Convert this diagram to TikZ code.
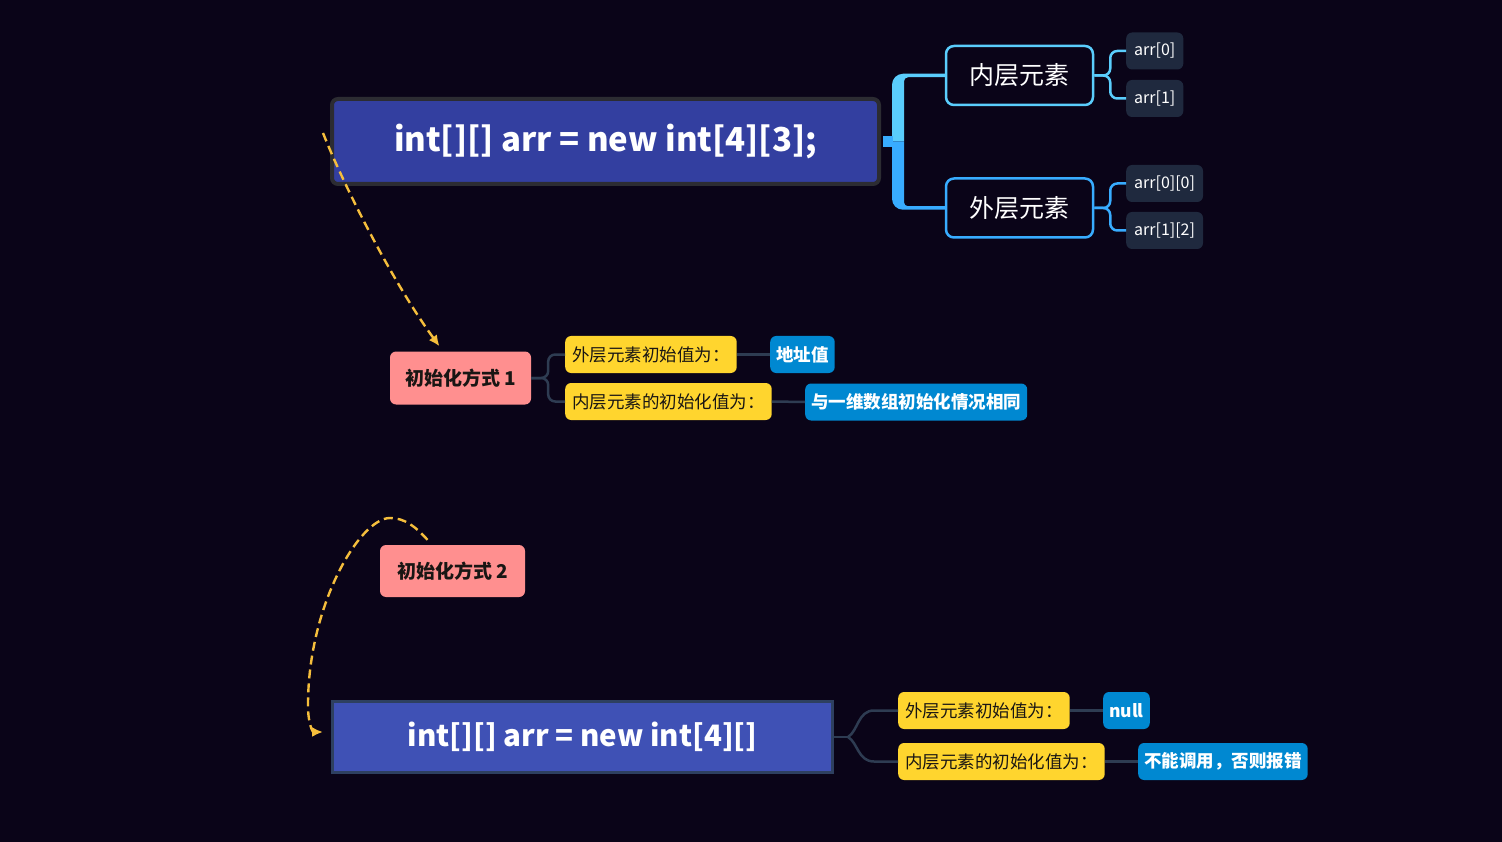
\documentclass[tikz,border=0pt]{standalone}
\usepackage{fontspec}
\setmainfont{Noto Sans CJK SC}
\usetikzlibrary{arrows.meta,calc}
\definecolor{bg}{RGB}{10,4,24}
\definecolor{mainfill}{RGB}{51,63,160}
\definecolor{mainborder}{RGB}{44,44,50}
\definecolor{cyanA}{RGB}{90,205,252}
\definecolor{cyanB}{RGB}{56,172,255}
\definecolor{leaffill}{RGB}{31,41,62}
\definecolor{pinkc}{RGB}{255,143,143}
\definecolor{yel}{RGB}{255,213,46}
\definecolor{blu}{RGB}{0,136,209}
\definecolor{slate}{RGB}{46,60,82}
\definecolor{dashc}{RGB}{245,190,60}
\definecolor{mainfillB}{RGB}{63,81,181}
\definecolor{mainborderB}{RGB}{46,64,96}
\definecolor{darktext}{RGB}{25,22,20}
\tikzset{
  mainbox/.style={draw=mainborder, line width=4pt, fill=mainfill, rounded corners=6pt, text=white,
    font=\bfseries\fontsize{33}{36}\selectfont, minimum width=547pt, minimum height=85pt},
  mainboxB/.style={draw=mainborderB, line width=3pt, fill=mainfillB, text=white,
    font=\bfseries\fontsize{29.5}{33}\selectfont, minimum width=500pt, minimum height=71pt},
  catbox/.style={line width=2.5pt, fill=bg, rounded corners=8pt, text=white,
    font=\fontsize{25}{28}\selectfont, minimum width=147pt, minimum height=59pt},
  leaf/.style={fill=leaffill, rounded corners=6pt, text=white, font=\fontsize{16}{18}\selectfont,
    minimum height=37pt, inner xsep=8pt, anchor=west},
  pinkbox/.style={fill=pinkc, rounded corners=6pt, text=darktext, font=\bfseries\fontsize{19}{22}\selectfont,
    minimum height=53pt},
  yelbox/.style={fill=yel, rounded corners=6pt, text=darktext, font=\fontsize{17.5}{20}\selectfont,
    minimum height=37pt, inner xsep=7pt, anchor=west},
  bluebox/.style={fill=blu, rounded corners=6pt, text=white, font=\bfseries\fontsize{17.5}{20}\selectfont,
    minimum height=37pt, inner xsep=6pt, anchor=west},
  slateline/.style={draw=slate, line width=2.5pt},
  dasharrow/.style={draw=dashc, line width=2.4pt, dash pattern=on 9pt off 5pt,
    -{Latex[length=11pt,width=10pt]}},
}
\begin{document}
\begin{tikzpicture}[x=1pt,y=-1pt]
\fill[bg] (0,0) rectangle (1502,842);
\useasboundingbox (0,0) rectangle (1502,842);

% top main
\node[mainbox] (m1) at (605.5,141.5) {int[][] arr = new int[4][3];};
\node[catbox, draw=cyanA] (in) at (1019.5,75.5) {内层元素};
\node[catbox, draw=cyanB] (out) at (1019.5,208) {外层元素};
\coordinate (bl) at (892,141.5);
\fill[cyanA] ($(in.west)+(0,-1.75)$) -- ($(bl |- in.west)+(11,-1.75)$)
  .. controls +(-6.1,0) and +(0,-6.1) .. ($(bl |- in.west)+(0,9.25)$) -- (bl) -- ($(bl)+(12,0)$)
  -- ($(bl |- in.west)+(12,5.75)$) .. controls +(0,-2.2) and +(-2.2,0) .. ($(bl |- in.west)+(16,1.75)$)
  -- ($(in.west)+(0,1.75)$) -- cycle;
\fill[cyanB] ($(out.west)+(0,1.75)$) -- ($(bl |- out.west)+(11,1.75)$)
  .. controls +(-6.1,0) and +(0,6.1) .. ($(bl |- out.west)+(0,-9.25)$) -- (bl) -- ($(bl)+(12,0)$)
  -- ($(bl |- out.west)+(12,-5.75)$) .. controls +(0,2.2) and +(-2.2,0) .. ($(bl |- out.west)+(16,-1.75)$)
  -- ($(out.west)+(0,-1.75)$) -- cycle;
\draw[cyanB, line width=11pt] ($(m1.east)+(2,0)$) -- ($(bl)+(1,0)$);

\node[leaf] (a0) at (1126,51) {arr[0]};
\node[leaf] (a1) at (1126,98.5) {arr[1]};
\node[leaf] (a00) at (1126,183.5) {arr[0][0]};
\node[leaf] (a12) at (1126,230.5) {arr[1][2]};
\draw[cyanA, line width=2.5pt, rounded corners=7pt] (in.east) -- ++(16,0) |- (a0.west);
\draw[cyanA, line width=2.5pt, rounded corners=7pt] (in.east) -- ++(16,0) |- (a1.west);
\draw[cyanB, line width=2.5pt, rounded corners=7pt] (out.east) -- ++(16,0) |- (a00.west);
\draw[cyanB, line width=2.5pt, rounded corners=7pt] (out.east) -- ++(16,0) |- (a12.west);

% init 1
\node[pinkbox, minimum width=141pt] (p1) at (460.5,378) {初始化方式 1};
\node[yelbox] (y1) at (565,354.5) {外层元素初始值为：};
\node[yelbox] (y2) at (565,401.5) {内层元素的初始化值为：};
\node[bluebox] (b1) at (770,354.5) {地址值};
\node[bluebox] (b2) at (805,402) {与一维数组初始化情况相同};
\draw[slateline, rounded corners=7pt] (p1.east) -- ++(17,0) |- (y1.west);
\draw[slateline, rounded corners=7pt] (p1.east) -- ++(17,0) |- (y2.west);
\draw[slateline] (y1.east) -- (b1.west);
\draw[slateline] (y2.east) -- (b2.west);

\draw[dasharrow] ($(m1.west)+(-7,-8.5)$) .. controls +(24,60) and +(-44,-60) .. ($(p1.north)+(-21,-5)$);

% init 2
\node[pinkbox, minimum width=145pt, minimum height=52pt] (p2) at (452.5,571) {初始化方式 2};
\node[mainboxB] (m2) at (582.5,737) {int[][] arr = new int[4][]};
\coordinate (pk) at (390,518);
\coordinate (q) at (308,705);
\draw[dasharrow] ($(p2.north)+(-25,-5)$) .. controls +(-12,-13) and +(15,0) .. (pk)
  .. controls +(-30,0) and +(0,-100) .. (q)
  .. controls +(0,20) and +(-10,0) .. ($(m2.west)+(-8,-5)$);

\node[yelbox] (y3) at (898,710.5) {外层元素初始值为：};
\node[yelbox] (y4) at (898,761.5) {内层元素的初始化值为：};
\node[bluebox] (b3) at (1103,710.5) {null};
\node[bluebox] (b4) at (1138,761.5) {不能调用，否则报错};
\coordinate (c2) at ($(m2.east)+(14,0)$);
\draw[slateline] (m2.east) -- (c2);
\draw[slateline] (c2) .. controls +(10,-6) and +(-16,0) .. ($(y3.west)+(-24,0)$) -- (y3.west);
\draw[slateline] (c2) .. controls +(10,6) and +(-16,0) .. ($(y4.west)+(-24,0)$) -- (y4.west);
\draw[slateline] (y3.east) -- (b3.west);
\draw[slateline] (y4.east) -- (b4.west);
\end{tikzpicture}
\end{document}
